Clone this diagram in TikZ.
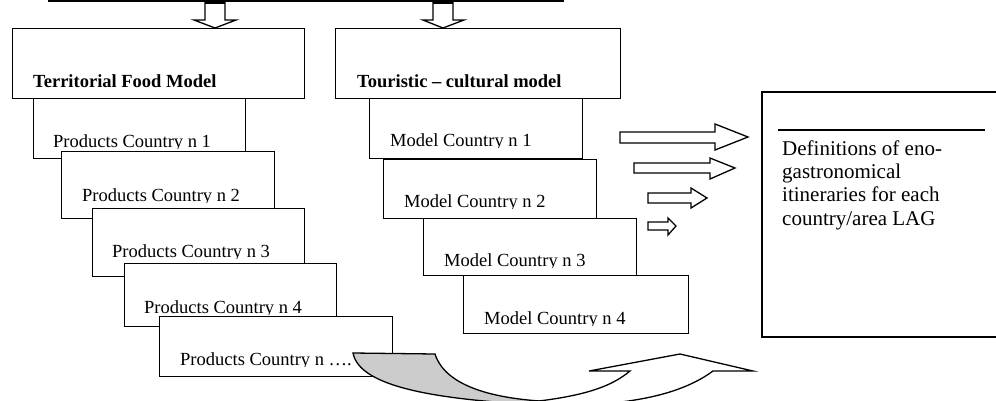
\documentclass[tikz,border=0pt]{standalone}
\usepackage{fontspec}
\setmainfont{Liberation Serif}
\definecolor{backgray}{RGB}{204,204,204}
\tikzset{
  box/.style={draw, fill=white, line width=1.3pt, inner sep=0pt, anchor=north west},
  lbl/.style={inner sep=0pt, anchor=base west, font=\fontsize{18.5}{22}\selectfont},
  hlbl/.style={inner sep=0pt, anchor=base west, font=\fontsize{18.5}{22}\selectfont\bfseries},
  rlbl/.style={inner sep=0pt, anchor=base west, font=\fontsize{21}{24}\selectfont},
  barrow/.style={draw, fill=white, line width=1.3pt, line join=miter},
}
\begin{document}
\begin{tikzpicture}[x=1pt,y=-1pt]
\useasboundingbox (0,0) rectangle (996,400);
\clip (0,0) rectangle (996,400);

% top bar and down arrows
\coordinate (barL) at (48,0.5);
\coordinate (barR) at (564,0.5);
\draw[line width=2.5pt] (barL) -- (barR);
\draw[barrow] (205,-2) -- (225,-2) -- (225,20) -- (236,20) -- (215,28) -- (194,20) -- (205,20) -- cycle;
\fill (205,0) rectangle (225,4);
\draw[barrow] (433,-2) -- (453,-2) -- (453,20) -- (464,20) -- (443,28) -- (423,20) -- (433,20) -- cycle;
\fill (433,0) rectangle (453,4);

% products stack
\node[box, minimum width=212pt, minimum height=60pt] (p1) at (33,98) {};
\begin{scope}\clip (33,98) rectangle (245,148);
\node[lbl] (tp1) at (53,147) {Products Country n 1};\end{scope}
\node[box, minimum width=213pt, minimum height=67pt] (p2) at (61,151) {};
\begin{scope}\clip (61,151) rectangle (274,202);
\node[lbl] (tp2) at (82,201) {Products Country n 2};\end{scope}
\node[box, minimum width=212pt, minimum height=68pt] (p3) at (92,208) {};
\begin{scope}\clip (92,208) rectangle (304,258);
\node[lbl] (tp3) at (112,257) {Products Country n 3};\end{scope}
\node[box, minimum width=212pt, minimum height=63pt] (p4) at (124,263) {};
\begin{scope}\clip (124,263) rectangle (336,314);
\node[lbl] (tp4) at (144,313) {Products Country n 4};\end{scope}
\node[box, minimum width=233pt, minimum height=60pt] (p5) at (159,316) {};
\begin{scope}\clip (159,316) rectangle (392,366);
\node[lbl] (tp5) at (180,365) {Products Country n \dots.};\end{scope}

% model stack
\node[box, minimum width=213pt, minimum height=60pt] (m1) at (369,98) {};
\begin{scope}\clip (369,98) rectangle (582,147);
\node[lbl] (tm1) at (390,146) {Model Country n 1};\end{scope}
\node[box, minimum width=213pt, minimum height=59pt] (m2) at (383,159) {};
\begin{scope}\clip (383,159) rectangle (596,208);
\node[lbl] (tm2) at (404,207) {Model Country n 2};\end{scope}
\node[box, minimum width=213pt, minimum height=57pt] (m3) at (423,218) {};
\begin{scope}\clip (423,218) rectangle (636,267);
\node[lbl] (tm3) at (444,266) {Model Country n 3};\end{scope}
\node[box, minimum width=225pt, minimum height=58pt] (m4) at (463,275) {};
\begin{scope}\clip (463,275) rectangle (688,325);
\node[lbl] (tm4) at (484,324) {Model Country n 4};\end{scope}

% header boxes
\node[box, minimum width=292pt, minimum height=70pt] (h1) at (12,28) {};
\node[hlbl] (th1) at (33,87) {Territorial Food Model};
\node[box, minimum width=285pt, minimum height=70pt] (h2) at (335,28) {};
\node[hlbl] (th2) at (357,87) {Touristic -- cultural model};

% curved arrow: back (gray) part
\draw[fill=backgray, line width=1.3pt, line join=miter]
  (353,353) -- (435,354) .. controls (445,385) and (490,400) .. (560,402)
  -- (560,406) .. controls (450,401) and (360,390) .. (353,353) -- cycle;
% curved arrow: front part with head
\draw[fill=white, line width=1.3pt, line join=miter]
  (630,371) -- (589,371) -- (680,354) -- (753,371) -- (713,371)
  .. controls (690,388) and (655,400) .. (600,404)
  -- (580,440) -- (480,440) -- (520,403)
  .. controls (585,397) and (612,386) .. (630,371) -- cycle;

% right arrows
\draw[barrow] (620,132) -- (715,132) -- (715,124) -- (748,137) -- (715,150) -- (715,143) -- (620,143) -- cycle;
\draw[barrow] (634,163) -- (710,163) -- (710,158) -- (735,168) -- (710,179) -- (710,173) -- (634,173) -- cycle;
\draw[barrow] (648,193) -- (691,193) -- (691,188) -- (707,198) -- (691,208) -- (691,203) -- (648,203) -- cycle;
\draw[barrow] (648,222) -- (668,222) -- (668,218) -- (676,226) -- (668,235) -- (668,230) -- (648,230) -- cycle;

% result box
\node[box, line width=1.5pt, minimum width=260pt, minimum height=245pt] (res) at (761,91) {};
\coordinate (rl1) at (778,130);
\coordinate (rl2) at (985,130);
\draw[line width=1.5pt] (rl1) -- (rl2);
\node[rlbl] (r1) at (782,155) {Definitions of eno-};
\node[rlbl] (r2) at (782,178.3) {gastronomical};
\node[rlbl] (r3) at (782,201.7) {itineraries for each};
\node[rlbl] (r4) at (782,225) {country/area LAG};
\end{tikzpicture}
\end{document}
